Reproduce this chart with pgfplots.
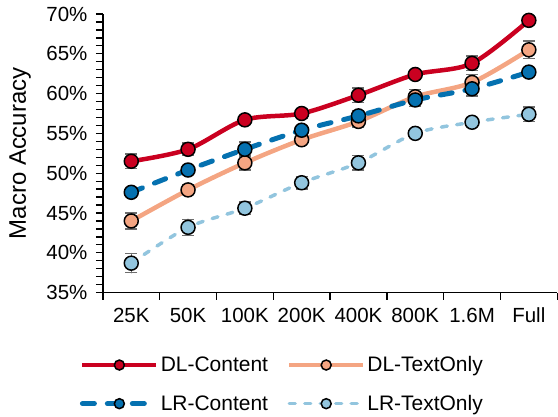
\documentclass[border=0pt]{standalone}
\usepackage{pgfplots}
\pgfplotsset{compat=1.18}
\usepackage{fontspec}
\setmainfont{Liberation Sans}

\definecolor{dlc}{HTML}{CA0020}
\definecolor{dlt}{HTML}{F4A582}
\definecolor{lrc}{HTML}{0571B0}
\definecolor{lrt}{HTML}{92C5DE}
\definecolor{errgray}{HTML}{6E6E6E}

\pgfplotsset{
  errs/.style={
    /pgfplots/error bars/y dir=both,
    /pgfplots/error bars/y explicit,
    /pgfplots/error bars/error bar style={errgray, line width=1.5bp, solid},
    /pgfplots/error bars/error mark options={rotate=90, mark size=6bp, line width=1.5bp, errgray, solid},
  },
  series/.style={#1, smooth, tension=0.5, mark=*, mark size=7bp,
    mark options={solid, draw=black, fill=#1, line width=1.5bp}, errs},
}

\begin{document}
\begin{tikzpicture}
\begin{axis}[
  scale only axis,
  width=455bp, height=279bp,
  xmin=-0.5, xmax=7.5,
  ymin=35, ymax=70,
  axis lines=left,
  axis line style={-, line width=1.5bp, black},
  tick align=outside,
  major tick length=7bp, minor tick length=7bp,
  tick style={line width=1.3bp, black},
  xtick={-0.5,0.5,...,7.5},
  x tick label as interval,
  xticklabels={25K,50K,100K,200K,400K,800K,1.6M,Full},
  ytick={35,40,...,70},
  minor y tick num=4,
  yticklabel={\pgfmathprintnumber{\tick}\%},
  /pgf/number format/assume math mode=true,
  tick label style={font=\fontsize{20.5bp}{23bp}\selectfont},
  x tick label style={yshift=-5bp},
  y tick label style={xshift=-5bp},
  ylabel={Macro Accuracy},
  ylabel style={font=\fontsize{24bp}{27bp}\selectfont, at={(axis description cs:-0.182,0.5)}, anchor=center},
  legend columns=2,
  legend cell align=left,
  legend style={at={(axis description cs:0.395,-0.215)}, anchor=north, draw=none, fill=none,
    font=\fontsize{21bp}{24bp}\selectfont, row sep=18bp,
    /tikz/every even column/.append style={column sep=17bp}},
  legend image code/.code={
    \draw[#1, mark=none] (0bp,0bp) -- (74bp,0bp);
    \draw[#1, mark size=5bp] plot coordinates {(37bp,0bp)};
  },
]
\addplot[series=dlc, line width=4.5bp] coordinates {
  (0,51.5) +- (0,0.9)
  (1,53.0) +- (0,0.8)
  (2,56.7) +- (0,0.5)
  (3,57.5) +- (0,0.6)
  (4,59.8) +- (0,0.9)
  (5,62.4) +- (0,0.5)
  (6,63.8) +- (0,0.9)
  (7,69.2) +- (0,0.5)
};
\addlegendentry{DL-Content}
\addplot[series=dlt, line width=4.5bp] coordinates {
  (0,44.0) +- (0,1.0)
  (1,47.9) +- (0,0.6)
  (2,51.3) +- (0,0.9)
  (3,54.2) +- (0,0.5)
  (4,56.5) +- (0,0.7)
  (5,59.6) +- (0,0.9)
  (6,61.4) +- (0,1.0)
  (7,65.5) +- (0,1.1)
};
\addlegendentry{DL-TextOnly}
\addplot[series=lrc, line width=5bp, line cap=round, dash pattern=on 12bp off 13bp] coordinates {
  (0,47.6) +- (0,0.5)
  (1,50.4) +- (0,0.5)
  (2,53.0) +- (0,0.9)
  (3,55.4) +- (0,0.6)
  (4,57.2) +- (0,0.7)
  (5,59.2) +- (0,0.8)
  (6,60.6) +- (0,0.9)
  (7,62.7) +- (0,0.5)
};
\addlegendentry{LR-Content}
\addplot[series=lrt, line width=3.5bp, line cap=round, dash pattern=on 6bp off 9.5bp] coordinates {
  (0,38.7) +- (0,1.2)
  (1,43.2) +- (0,1.0)
  (2,45.6) +- (0,0.8)
  (3,48.8) +- (0,0.8)
  (4,51.3) +- (0,0.9)
  (5,55.0) +- (0,0.4)
  (6,56.4) +- (0,0.4)
  (7,57.4) +- (0,0.9)
};
\addlegendentry{LR-TextOnly}
\end{axis}
\path (current axis.south west) ++(-103bp,-123bp);
\path (current axis.north east) ++(0bp,14bp);
\end{tikzpicture}
\end{document}
